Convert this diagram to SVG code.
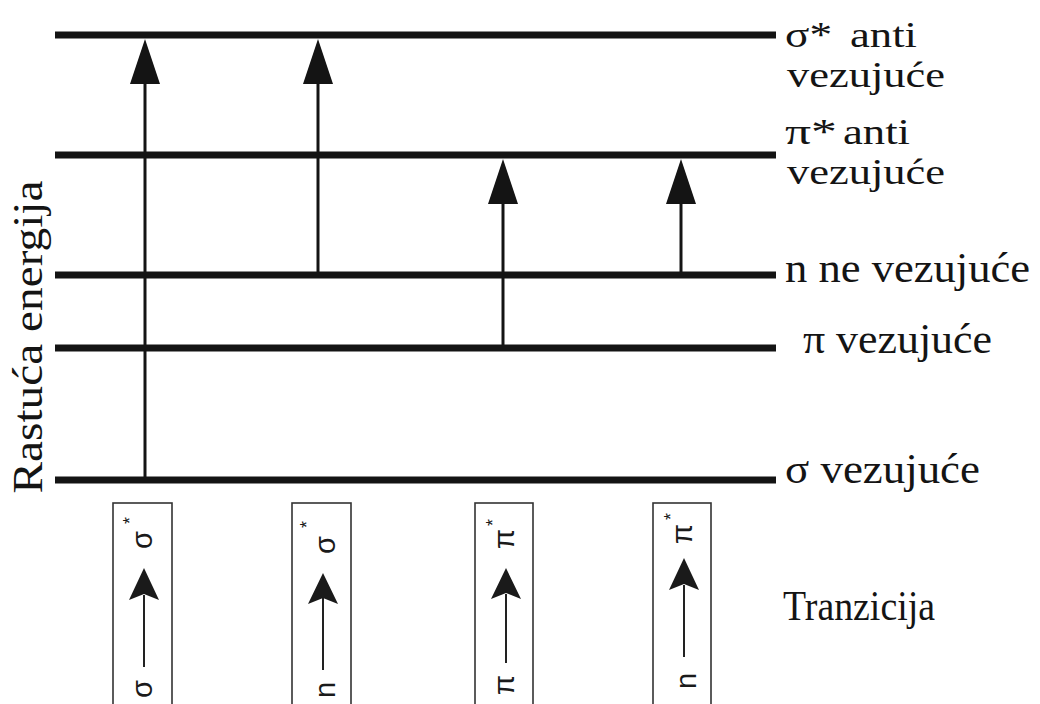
<svg xmlns="http://www.w3.org/2000/svg" width="1040" height="704" viewBox="0 0 1040 704">
<style>
.lvl{stroke:#141414;stroke-width:7;fill:none}
.vl{stroke:#141414;stroke-width:3;fill:none}
.hd{fill:#141414}
.lbl{font-family:"Liberation Serif","Times New Roman",serif;font-size:42px;fill:#141414}
.two{font-size:36px}
.box{fill:none;stroke:#333;stroke-width:1.6}
.bl{stroke:#222;stroke-width:2;fill:none}
.bh{fill:#1a1a1a}
.sym{font-family:"Liberation Sans",Arial,sans-serif;font-size:29px;fill:#1a1a1a}
.st{font-family:"Liberation Sans",Arial,sans-serif;font-size:18px;fill:#1a1a1a}
</style>
<rect width="1040" height="704" fill="#fff"/>
<g id="levels">
<line class="lvl" x1="55" y1="35" x2="776" y2="35"/>
<line class="lvl" x1="55" y1="155" x2="776" y2="155"/>
<line class="lvl" x1="55" y1="275" x2="776" y2="275"/>
<line class="lvl" x1="55" y1="348" x2="776" y2="348"/>
<line class="lvl" x1="55" y1="480" x2="776" y2="480"/>
</g>
<g id="connectors">
<line class="vl" x1="145" y1="480" x2="145" y2="80"/>
<path class="hd" d="M145 39 L160 84 L130 84 Z"/>
<line class="vl" x1="318" y1="275" x2="318" y2="80"/>
<path class="hd" d="M318 39 L333 84 L303 84 Z"/>
<line class="vl" x1="503" y1="348" x2="503" y2="200"/>
<path class="hd" d="M503 159 L518 204 L488 204 Z"/>
<line class="vl" x1="681" y1="275" x2="681" y2="200"/>
<path class="hd" d="M681 159 L696 204 L666 204 Z"/>
</g>
<g id="labels">
<text class="lbl two"><tspan x="785" y="47" textLength="47" lengthAdjust="spacingAndGlyphs">σ*</tspan><tspan x="850" y="47" textLength="67" lengthAdjust="spacingAndGlyphs">anti</tspan><tspan x="787" y="87" textLength="158" lengthAdjust="spacingAndGlyphs">vezujuće</tspan></text>
<text class="lbl two"><tspan x="785" y="144" textLength="52" lengthAdjust="spacingAndGlyphs">π*</tspan><tspan x="843" y="144" textLength="67" lengthAdjust="spacingAndGlyphs">anti</tspan><tspan x="787" y="184" textLength="158" lengthAdjust="spacingAndGlyphs">vezujuće</tspan></text>
<text class="lbl" x="785" y="282" textLength="245" lengthAdjust="spacingAndGlyphs">n ne vezujuće</text>
<text class="lbl" x="803" y="353" textLength="189" lengthAdjust="spacingAndGlyphs">π vezujuće</text>
<text class="lbl" x="785" y="483" textLength="195" lengthAdjust="spacingAndGlyphs">σ vezujuće</text>
<text class="lbl" x="783" y="620" font-size="38" textLength="152" lengthAdjust="spacingAndGlyphs">Tranzicija</text>
<text class="lbl" transform="translate(42,337) rotate(-90)" text-anchor="middle" textLength="313" lengthAdjust="spacingAndGlyphs">Rastuća energija</text>
</g>
<g id="t1">
<rect class="box" x="113" y="503" width="59" height="210"/>
<line class="bl" x1="144" y1="667" x2="144" y2="595"/>
<path class="bh" d="M144 568 L159 600 L144 594 L129 600 Z"/>
<text class="sym" transform="translate(152,698) rotate(-90)">σ</text>
<text class="sym" transform="translate(152,549) rotate(-90)">σ</text>
<text class="st" transform="translate(136,524) rotate(-90)">*</text>
</g>
<g id="t2">
<rect class="box" x="292" y="503" width="59" height="210"/>
<line class="bl" x1="323" y1="670" x2="323" y2="598"/>
<path class="bh" d="M323 573 L338 604 L323 598 L308 604 Z"/>
<text class="sym" transform="translate(335,698) rotate(-90)">n</text>
<text class="sym" transform="translate(335,554) rotate(-90)">σ</text>
<text class="st" transform="translate(313,528) rotate(-90)">*</text>
</g>
<g id="t3">
<rect class="box" x="475" y="503" width="58" height="210"/>
<line class="bl" x1="506" y1="663" x2="506" y2="594"/>
<path class="bh" d="M506 568 L521 599 L506 593 L491 599 Z"/>
<text class="sym" transform="translate(514,695) rotate(-90)">π</text>
<text class="sym" transform="translate(514,549) rotate(-90)">π</text>
<text class="st" transform="translate(499,526) rotate(-90)">*</text>
</g>
<g id="t4">
<rect class="box" x="653" y="503" width="58" height="210"/>
<line class="bl" x1="684" y1="657" x2="684" y2="585"/>
<path class="bh" d="M684 558 L699 590 L684 584 L669 590 Z"/>
<text class="sym" transform="translate(696,689) rotate(-90)">n</text>
<text class="sym" transform="translate(692,544) rotate(-90)">π</text>
<text class="st" transform="translate(677,520) rotate(-90)">*</text>
</g>
</svg>
